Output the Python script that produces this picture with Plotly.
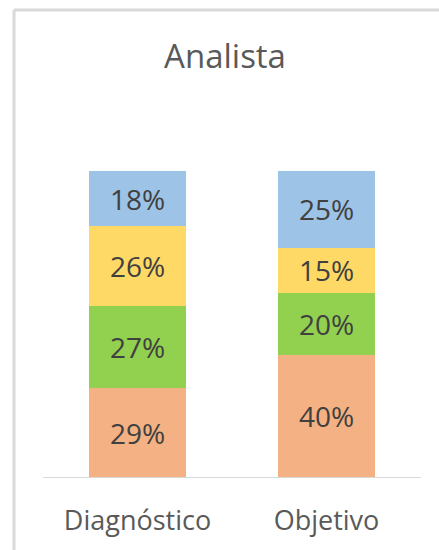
import plotly.graph_objects as go

categories = ["Diagnóstico", "Objetivo"]
series_names = ["S1", "S2", "S3", "S4"]
orange_vals = [0.29, 0.40]
green_vals = [0.27, 0.20]
yellow_vals = [0.26, 0.15]
blue_vals = [0.18, 0.25]

series = [orange_vals, green_vals, yellow_vals, blue_vals]
colors = ["#F4B183", "#92D050", "#FFD966", "#9DC3E6"]

W, H = 439, 550
L, R, T, B = 43, 18, 171, 550 - 479
PW, PH = W - L - R, H - T - B

def px(xp):
    return (xp - L) / PW

def py(yp):
    return (H - B - yp) / PH

fig = go.Figure()
for name, vals, col in zip(series_names, series, colors):
    fig.add_trace(go.Bar(
        x=categories, y=vals, name=name,
        marker=dict(color=col, line=dict(width=0)),
        texttemplate="%{y:.0%}", textposition="inside",
        insidetextanchor="middle", constraintext="none",
        textfont=dict(family="Open Sans", size=28, color="#404040"),
        hoverinfo="skip",
    ))

fig.update_layout(
    barmode="stack", bargap=0.49, showlegend=False,
    width=W, height=H,
    margin=dict(l=L, r=R, t=T, b=B),
    paper_bgcolor="white", plot_bgcolor="white",
    title=dict(text="Analista", x=225 / W, xanchor="center",
               y=1 - 56 / H, yanchor="middle",
               font=dict(family="Open Sans", size=33, color="#595959")),
    xaxis=dict(range=[-0.5, 1.5], showline=True, linecolor="#D9D9D9", linewidth=1,
               showgrid=False, zeroline=False, ticks="", ticklabelstandoff=20,
               tickfont=dict(family="Open Sans", size=27, color="#595959")),
    yaxis=dict(range=[0, 1], visible=False, showgrid=False, zeroline=False),
    shapes=[
        dict(type="line", xref="paper", yref="paper", x0=px(14), x1=px(460),
             y0=py(9), y1=py(9), line=dict(color="#D9D9D9", width=3)),
        dict(type="line", xref="paper", yref="paper", x0=px(14), x1=px(14),
             y0=py(9), y1=py(600), line=dict(color="#D9D9D9", width=3)),
    ],
)

fig.write_html(
    "out.html",
    config={"displayModeBar": False},
    post_script="document.body.style.margin='0';"
                "document.documentElement.style.overflow='hidden';"
                "document.body.style.overflow='hidden';",
)
